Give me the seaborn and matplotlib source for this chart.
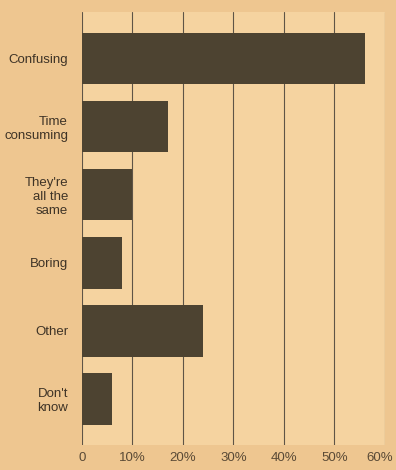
import matplotlib
matplotlib.use("Agg")
import matplotlib.pyplot as plt
import matplotlib.transforms as mtransforms
import seaborn as sns
import pandas as pd

categories = ["Confusing", "Time\nconsuming", "They're\nall the\nsame", "Boring", "Other", "Don't\nknow"]
values = [56, 17, 10, 8, 24, 6]
xticks = [0, 10, 20, 30, 40, 50, 60]
xticklabels = ["0", "10%", "20%", "30%", "40%", "50%", "60%"]

df = pd.DataFrame({"category": categories, "value": values})

sns.set_theme(style="white")
plt.rcParams['font.family'] = ['Liberation Sans Narrow', 'Liberation Sans', 'DejaVu Sans']

fig = plt.figure(figsize=(3.96, 4.70), dpi=100)
fig.patch.set_facecolor("#eec690")
ax = fig.add_axes([0.207, 0.053, 0.765, 0.921])
ax.set_facecolor("#f5d3a0")

sns.barplot(data=df, y="category", x="value", orient="h", color="#4d4331",
            width=0.76, ax=ax, saturation=1, edgecolor="none", linewidth=0)

ax.set_xlim(0, 60)
ax.set_ylim(5.68, -0.68)
ax.set_xticks(xticks)
ax.set_xticklabels(xticklabels, fontsize=9.5, color="#5a4a36")
ax.tick_params(axis="y", length=0, labelsize=9.5, labelcolor="#3e3326", pad=10)
ax.tick_params(axis="x", length=3, width=0.8, color="#6b5a45", pad=2)
for lbl in ax.get_yticklabels():
    lbl.set_horizontalalignment("right")
    lbl.set_multialignment("right")
last = ax.get_xticklabels()[-1]
last.set_transform(last.get_transform() + mtransforms.ScaledTranslation(-4 / 72, 0, fig.dpi_scale_trans))
ax.set_axisbelow(True)
ax.grid(axis="x", color="#5f5446", linewidth=0.8)
ax.grid(axis="y", visible=False)
for s in ax.spines.values():
    s.set_visible(False)
ax.set_xlabel("")
ax.set_ylabel("")

fig.savefig("out.png", dpi=100, facecolor=fig.get_facecolor())
